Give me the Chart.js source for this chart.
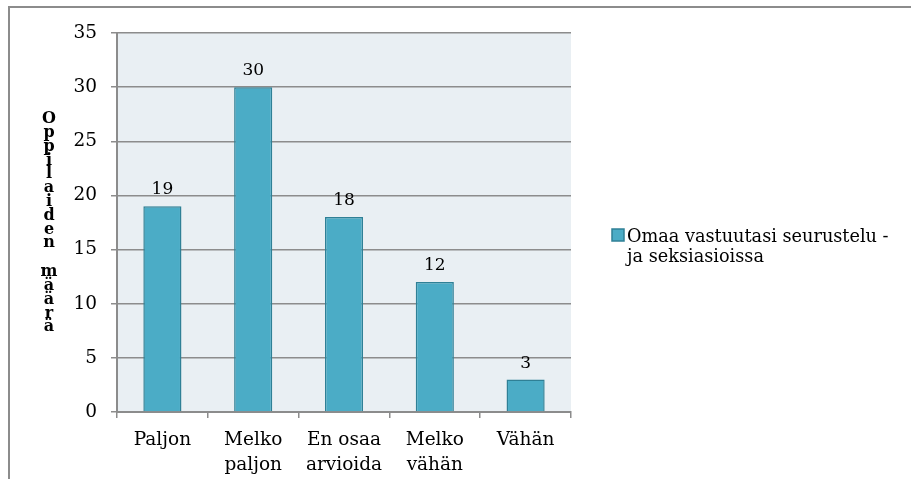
<!DOCTYPE html>
<html>
<head>
<meta charset="utf-8">
<script src="https://cdn.jsdelivr.net/npm/chart.js@4/dist/chart.umd.min.js"></script>
<style>
  html, body { margin: 0; padding: 0; background: #fff; }
  #wrap { width: 911px; height: 479px; }
</style>
</head>
<body>
<div id="wrap"><canvas id="chart" width="911" height="479"></canvas></div>
<script>
// data
const categories = [['Paljon'], ['Melko', 'paljon'], ['En osaa', 'arvioida'], ['Melko', 'vähän'], ['Vähän']];
const counts = [19, 30, 18, 12, 3];
const seriesLabel = ['Omaa vastuutasi seurustelu -', 'ja seksiasioissa'];
const axisTitle = 'Oppilaiden määrä';
const yTicks = [0, 5, 10, 15, 20, 25, 30, 35];

const serif = "'DejaVu Serif', 'Liberation Serif', serif";
const barFill = '#4bacc6';
const barEdge = '#2f8096';

// kehys, taustaväri, pystyotsikko, selite ja arvot pylväiden päällä
const decorations = {
    id: 'decorations',
    beforeDraw(chart) {
        const { ctx, chartArea: a } = chart;
        ctx.save();
        ctx.fillStyle = '#e9eff3';
        ctx.fillRect(a.left, a.top, a.right - a.left, a.bottom - a.top);
        ctx.strokeStyle = '#8c8c8c';
        ctx.lineWidth = 2;
        ctx.beginPath();
        ctx.moveTo(9, 479);
        ctx.lineTo(9, 7);
        ctx.lineTo(911, 7);
        ctx.stroke();
        ctx.restore();
    },
    afterDraw(chart) {
        const { ctx } = chart;
        ctx.save();
        // stacked title letters
        ctx.fillStyle = '#000';
        ctx.font = 'bold 16px ' + serif;
        ctx.textAlign = 'center';
        ctx.textBaseline = 'middle';
        let y = 119;
        for (const ch of axisTitle) {
            if (ch === ' ') { y += 15; continue; }
            ctx.fillText(ch, 49, y);
            y += 13.8;
        }
        // value labels
        ctx.font = '17px ' + serif;
        ctx.textBaseline = 'alphabetic';
        const meta = chart.getDatasetMeta(0);
        meta.data.forEach((bar, i) => {
            ctx.fillText(String(counts[i]), bar.x, bar.y - 12);
        });
        // legend
        ctx.fillStyle = barFill;
        ctx.strokeStyle = barEdge;
        ctx.lineWidth = 1.5;
        ctx.fillRect(612, 229, 12, 12);
        ctx.strokeRect(612, 229, 12, 12);
        ctx.fillStyle = '#000';
        ctx.textAlign = 'left';
        ctx.font = '17.7px ' + serif;
        seriesLabel.forEach((line, i) => ctx.fillText(line, 627, 242 + i * 20));
        ctx.restore();
    }
};

const ctx = document.getElementById('chart').getContext('2d');

new Chart(ctx, {
    type: 'bar',
    data: {
        labels: categories,
        datasets: [{
            label: seriesLabel,
            data: counts,
            backgroundColor: barFill,
            borderColor: barEdge,
            borderWidth: 1.5,
            categoryPercentage: 1,
            barPercentage: 0.42
        }]
    },
    options: {
        responsive: false,
        animation: false,
        layout: { padding: { left: 70, top: 33, right: 340, bottom: 3 } },
        scales: {
            y: {
                min: 0,
                max: 35,
                afterFit: s => { s.width = 47; },
                afterBuildTicks: s => { s.ticks = yTicks.map(v => ({ value: v })); },
                ticks: {
                    color: '#000',
                    padding: 14,
                    font: { family: serif, size: 18.5 }
                },
                grid: { color: '#8c8c8c', lineWidth: 1.5, tickLength: 6 },
                border: { color: '#8c8c8c', width: 2 }
            },
            x: {
                afterFit: s => { s.height = 64; },
                ticks: {
                    color: '#000',
                    padding: 9,
                    font: { family: serif, size: 18.5, lineHeight: 1.38 }
                },
                grid: { display: true, drawOnChartArea: false, offset: true, tickLength: 6, color: '#8c8c8c', lineWidth: 1.5 },
                border: { color: '#8c8c8c', width: 2 }
            }
        },
        plugins: {
            legend: { display: false },
            tooltip: { enabled: false }
        }
    },
    plugins: [decorations]
});
</script>
</body>
</html>
